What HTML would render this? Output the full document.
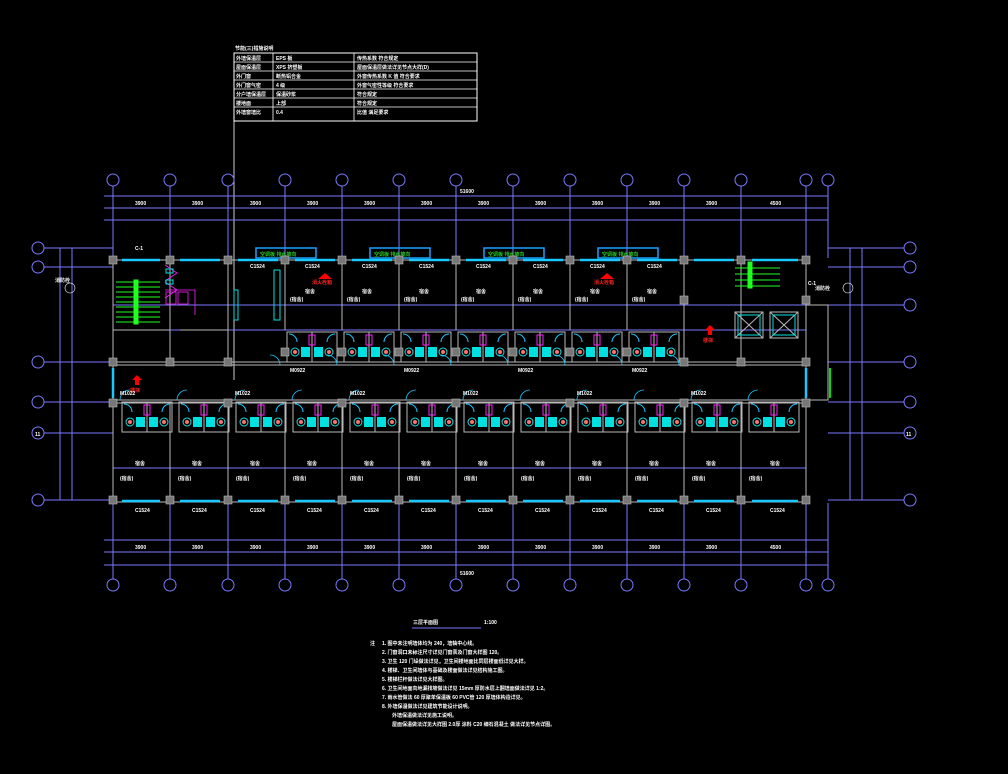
<!DOCTYPE html>
<html><head><meta charset="utf-8"><style>
html,body{margin:0;padding:0;background:#000;}
svg{display:block}
text{font-family:"Liberation Sans","Noto Sans CJK SC",sans-serif;fill:#fff;font-size:5px;font-weight:bold}
.d{stroke:#7a78ff;stroke-width:1;fill:none}
.w{stroke:#b8b8b8;stroke-width:1;fill:none}
.c{stroke:#19c8ff;fill:none}
</style></head><body>
<svg width="1008" height="774" viewBox="0 0 1008 774" xmlns="http://www.w3.org/2000/svg">
<defs>
<g id="bath">
 <rect x="0" y="0" width="50" height="30" class="w"/>
 <line x1="25" y1="0" x2="25" y2="30" stroke="#b8b8b8"/>
 <circle cx="8" cy="20" r="4" fill="none" stroke="#19e0e0"/><circle cx="8" cy="20" r="2" fill="#ff7070"/>
 <rect x="14" y="15" width="9" height="10" fill="#00e0e0"/>
 <rect x="27" y="15" width="9" height="10" fill="#00e0e0"/>
 <circle cx="42" cy="20" r="4" fill="none" stroke="#19e0e0"/><circle cx="42" cy="20" r="2" fill="#ff7070"/>
 <rect x="22" y="3" width="6" height="10" fill="none" stroke="#ff20ff"/>
 <path d="M2 2 A8 8 0 0 1 10 10 M48 2 A8 8 0 0 0 40 10" class="c"/>
</g>
<g id="colsq"><rect x="-4" y="-4" width="8" height="8" fill="#777" stroke="#bbb" stroke-width=".6"/></g>
</defs>

<text x="235" y="50">节能(三)措施说明</text>
<rect x="234" y="53" width="243" height="68" fill="none" stroke="#fff"/>
<g stroke="#fff" stroke-width=".8">
<line x1="234" y1="62" x2="477" y2="62"/><line x1="234" y1="71" x2="477" y2="71"/><line x1="234" y1="80" x2="477" y2="80"/>
<line x1="234" y1="89" x2="477" y2="89"/><line x1="234" y1="98" x2="477" y2="98"/><line x1="234" y1="107" x2="477" y2="107"/>
<line x1="273" y1="53" x2="273" y2="121"/><line x1="354" y1="53" x2="354" y2="121"/>
<line x1="234" y1="121" x2="234" y2="380"/>
</g>
<g>
<text x="236" y="60">外墙保温层</text><text x="276" y="60">EPS 板</text><text x="357" y="60">传热系数 符合规定</text>
<text x="236" y="69">屋面保温层</text><text x="276" y="69">XPS 挤塑板</text><text x="357" y="69">屋面保温层做法详见节点大样(D)</text>
<text x="236" y="78">外门窗</text><text x="276" y="78">断热铝合金</text><text x="357" y="78">外窗传热系数 K 值 符合要求</text>
<text x="236" y="87">外门窗气密</text><text x="276" y="87">4 级</text><text x="357" y="87">外窗气密性等级 符合要求</text>
<text x="236" y="96">分户墙保温层</text><text x="276" y="96">保温砂浆</text><text x="357" y="96">符合规定</text>
<text x="236" y="105">楼地面</text><text x="276" y="105">上部</text><text x="357" y="105">符合规定</text>
<text x="236" y="114">外墙窗墙比</text><text x="276" y="114">0.4</text><text x="357" y="114">比值 满足要求</text>
</g>

<g fill="none" stroke="#7a78ff">
<circle cx="113" cy="180" r="6"/><circle cx="170" cy="180" r="6"/><circle cx="228" cy="180" r="6"/><circle cx="285" cy="180" r="6"/><circle cx="342" cy="180" r="6"/><circle cx="399" cy="180" r="6"/><circle cx="456" cy="180" r="6"/><circle cx="513" cy="180" r="6"/><circle cx="570" cy="180" r="6"/><circle cx="627" cy="180" r="6"/><circle cx="684" cy="180" r="6"/><circle cx="741" cy="180" r="6"/><circle cx="806" cy="180" r="6"/><circle cx="828" cy="180" r="6"/>
<circle cx="113" cy="585" r="6"/><circle cx="170" cy="585" r="6"/><circle cx="228" cy="585" r="6"/><circle cx="285" cy="585" r="6"/><circle cx="342" cy="585" r="6"/><circle cx="399" cy="585" r="6"/><circle cx="456" cy="585" r="6"/><circle cx="513" cy="585" r="6"/><circle cx="570" cy="585" r="6"/><circle cx="627" cy="585" r="6"/><circle cx="684" cy="585" r="6"/><circle cx="741" cy="585" r="6"/><circle cx="806" cy="585" r="6"/><circle cx="828" cy="585" r="6"/>
<circle cx="38" cy="248" r="6"/><circle cx="38" cy="267" r="6"/><circle cx="38" cy="362" r="6"/><circle cx="38" cy="402" r="6"/><circle cx="38" cy="433" r="6"/><circle cx="38" cy="500" r="6"/>
<circle cx="910" cy="248" r="6"/><circle cx="910" cy="267" r="6"/><circle cx="910" cy="305" r="6"/><circle cx="910" cy="362" r="6"/><circle cx="910" cy="402" r="6"/><circle cx="910" cy="433" r="6"/><circle cx="910" cy="500" r="6"/>
</g>
<g class="d" stroke-width=".8">
<path d="M113 186V258M170 186V258M228 186V258M285 186V258M342 186V258M399 186V258M456 186V258M513 186V258M570 186V258M627 186V258M684 186V258M741 186V258M806 186V258M828 186V258"/>
<path d="M113 503V579M170 503V579M228 503V579M285 503V579M342 503V579M399 503V579M456 503V579M513 503V579M570 503V579M627 503V579M684 503V579M741 503V579M806 503V579M828 503V579"/>
<path d="M104 196H828M104 208H828M104 220H828M104 540H828M104 552H828M104 565H828"/>
<path d="M44 248H113M44 267H113M44 362H113M44 402H113M44 433H113M44 500H113"/>
<path d="M828 248H904M828 267H904M828 305H904M828 362H904M828 402H904M828 433H904M828 500H904"/>
<path d="M60 248V500M72 248V500M850 248V500M862 248V500"/>
<path d="M113 305H806M113 330H806M113 468H806"/>
</g>
<g>
<text x="460" y="193">51600</text><text x="460" y="575">51600</text>
<text x="135" y="205">3900</text><text x="192" y="205">3900</text><text x="250" y="205">3900</text><text x="307" y="205">3900</text><text x="364" y="205">3900</text><text x="421" y="205">3900</text><text x="478" y="205">3900</text><text x="535" y="205">3900</text><text x="592" y="205">3900</text><text x="649" y="205">3900</text><text x="706" y="205">3900</text><text x="770" y="205">4500</text>
<text x="135" y="549">3900</text><text x="192" y="549">3900</text><text x="250" y="549">3900</text><text x="307" y="549">3900</text><text x="364" y="549">3900</text><text x="421" y="549">3900</text><text x="478" y="549">3900</text><text x="535" y="549">3900</text><text x="592" y="549">3900</text><text x="649" y="549">3900</text><text x="706" y="549">3900</text><text x="770" y="549">4500</text>
<text x="35" y="436">11</text><text x="906" y="436">11</text>
</g>

<g class="w">
<rect x="113" y="260" width="693" height="242"/>
<path d="M806 305H828V400H806"/>
<path d="M113 365H806M113 400H806M113 362H806M113 403H806"/>
<path d="M170 260V362M228 260V362M285 260V330M342 260V330M399 260V330M456 260V330M513 260V330M570 260V330M627 260V330M684 260V362M741 260V362"/>
<path d="M170 403V502M228 403V502M285 403V502M342 403V502M399 403V502M456 403V502M513 403V502M570 403V502M627 403V502M684 403V502M741 403V502"/>
<path d="M113 330H170M180 330H228"/>
</g>
<g stroke="#19c8ff" stroke-width="2.5">
<path d="M122 260H160M180 260H220M238 260H278M295 260H335M352 260H392M409 260H449M466 260H506M523 260H563M580 260H620M637 260H677M694 260H734M752 260H798"/>
<path d="M122 501H160M180 501H220M238 501H278M295 501H335M352 501H392M409 501H449M466 501H506M523 501H563M580 501H620M637 501H677M694 501H734M752 501H798"/>
<path d="M113 368V398M806 368V398"/>
</g>
<path d="M830 368V398" stroke="#00e000" stroke-width="2"/>
<g fill="none" stroke="#19a0ff" stroke-width="1.5">
<rect x="256" y="248" width="60" height="10"/><rect x="370" y="248" width="60" height="10"/><rect x="484" y="248" width="60" height="10"/><rect x="598" y="248" width="60" height="10"/>
</g>
<g font-size="4"><text x="260" y="256" style="fill:#2c2">空调板 排水坡向</text><text x="374" y="256" style="fill:#2c2">空调板 排水坡向</text><text x="488" y="256" style="fill:#2c2">空调板 排水坡向</text><text x="602" y="256" style="fill:#2c2">空调板 排水坡向</text></g>
<use href="#bath" x="287" y="332"/><use href="#bath" x="344" y="332"/>
<use href="#bath" x="401" y="332"/><use href="#bath" x="458" y="332"/><use href="#bath" x="515" y="332"/><use href="#bath" x="572" y="332"/><use href="#bath" x="629" y="332"/>
<use href="#bath" x="122" y="402"/><use href="#bath" x="179" y="402"/><use href="#bath" x="236" y="402"/><use href="#bath" x="293" y="402"/><use href="#bath" x="350" y="402"/><use href="#bath" x="407" y="402"/><use href="#bath" x="464" y="402"/><use href="#bath" x="521" y="402"/><use href="#bath" x="578" y="402"/><use href="#bath" x="635" y="402"/><use href="#bath" x="692" y="402"/><use href="#bath" x="749" y="402"/>
<g class="c" stroke-width=".8">
<path d="M120 400a10 10 0 0 1 10-10M177 400a10 10 0 0 1 10-10M235 400a10 10 0 0 1 10-10M292 400a10 10 0 0 1 10-10M349 400a10 10 0 0 1 10-10M406 400a10 10 0 0 1 10-10M463 400a10 10 0 0 1 10-10M520 400a10 10 0 0 1 10-10M577 400a10 10 0 0 1 10-10M634 400a10 10 0 0 1 10-10M691 400a10 10 0 0 1 10-10M748 400a10 10 0 0 1 10-10"/>
<path d="M280 365a10 10 0 0 0-10-10M337 365a10 10 0 0 0-10-10M394 365a10 10 0 0 0-10-10M451 365a10 10 0 0 0-10-10M508 365a10 10 0 0 0-10-10M565 365a10 10 0 0 0-10-10M622 365a10 10 0 0 0-10-10M679 365a10 10 0 0 0-10-10"/>
</g>
<g>
<use href="#colsq" x="113" y="260"/><use href="#colsq" x="170" y="260"/><use href="#colsq" x="228" y="260"/><use href="#colsq" x="285" y="260"/><use href="#colsq" x="342" y="260"/><use href="#colsq" x="399" y="260"/><use href="#colsq" x="456" y="260"/><use href="#colsq" x="513" y="260"/><use href="#colsq" x="570" y="260"/><use href="#colsq" x="627" y="260"/><use href="#colsq" x="684" y="260"/><use href="#colsq" x="741" y="260"/><use href="#colsq" x="806" y="260"/>
<use href="#colsq" x="113" y="362"/><use href="#colsq" x="170" y="362"/><use href="#colsq" x="228" y="362"/><use href="#colsq" x="285" y="352"/><use href="#colsq" x="342" y="352"/><use href="#colsq" x="399" y="352"/><use href="#colsq" x="456" y="352"/><use href="#colsq" x="513" y="352"/><use href="#colsq" x="570" y="352"/><use href="#colsq" x="627" y="352"/><use href="#colsq" x="684" y="362"/><use href="#colsq" x="741" y="362"/><use href="#colsq" x="806" y="362"/>
<use href="#colsq" x="113" y="403"/><use href="#colsq" x="228" y="403"/><use href="#colsq" x="342" y="403"/><use href="#colsq" x="456" y="403"/><use href="#colsq" x="570" y="403"/><use href="#colsq" x="684" y="403"/><use href="#colsq" x="806" y="403"/>
<use href="#colsq" x="113" y="500"/><use href="#colsq" x="170" y="500"/><use href="#colsq" x="228" y="500"/><use href="#colsq" x="285" y="500"/><use href="#colsq" x="342" y="500"/><use href="#colsq" x="399" y="500"/><use href="#colsq" x="456" y="500"/><use href="#colsq" x="513" y="500"/><use href="#colsq" x="570" y="500"/><use href="#colsq" x="627" y="500"/><use href="#colsq" x="684" y="500"/><use href="#colsq" x="741" y="500"/><use href="#colsq" x="806" y="500"/>
<use href="#colsq" x="684" y="300"/><use href="#colsq" x="806" y="300"/>
</g>
<g stroke="#20ff20" stroke-width="1">
<path d="M116 282H160M116 287H160M116 292H160M116 297H160M116 302H160M116 307H160M116 312H160M116 317H160M116 322H160"/>
<rect x="134" y="280" width="4" height="44" fill="#20ff20"/>
</g>
<g stroke="#ff20ff" fill="none" stroke-width=".8"><path d="M165 265l12 8-12 8M165 282l12 8-12 8M165 290H195V315"/><rect x="166" y="292" width="10" height="12"/><rect x="178" y="292" width="10" height="12"/></g>
<g stroke="#00e0e0" fill="none"><rect x="166" y="269" width="7" height="4"/><rect x="166" y="280" width="7" height="4"/><rect x="234" y="290" width="4" height="30"/><rect x="274" y="270" width="6" height="50"/></g>
<g stroke="#20ff20"><path d="M735 268H780M735 274H780M735 280H780M735 286H780"/><rect x="748" y="262" width="4" height="26" fill="#20ff20"/></g>
<g fill="none" stroke="#b8b8b8"><rect x="735" y="312" width="28" height="26"/><rect x="770" y="312" width="28" height="26"/><path d="M735 312l28 26M763 312l-28 26M770 312l28 26M798 312l-28 26"/></g>
<g fill="none" stroke="#00e0e0"><rect x="738" y="315" width="22" height="20"/><rect x="773" y="315" width="22" height="20"/></g>
<g fill="#f00"><path d="M318 279l7-6 7 6z"/><path d="M600 279l7-6 7 6z"/><path d="M132 380l5-5 5 5h-3v5h-4v-5z"/><path d="M705 330l5-5 5 5h-3v5h-4v-5z"/></g>
<g font-size="4"><text x="312" y="284" style="fill:#f22">消火栓箱</text><text x="594" y="284" style="fill:#f22">消火栓箱</text><text x="130" y="392" style="fill:#f22">楼梯</text><text x="703" y="342" style="fill:#f22">楼梯</text></g>
<g font-size="4.5">
<text x="250" y="268">C1524</text><text x="305" y="268">C1524</text><text x="362" y="268">C1524</text><text x="419" y="268">C1524</text><text x="476" y="268">C1524</text><text x="533" y="268">C1524</text><text x="590" y="268">C1524</text><text x="647" y="268">C1524</text>
<text x="305" y="293">宿舍</text><text x="362" y="293">宿舍</text><text x="419" y="293">宿舍</text><text x="476" y="293">宿舍</text><text x="533" y="293">宿舍</text><text x="590" y="293">宿舍</text><text x="647" y="293">宿舍</text>
<text x="135" y="465">宿舍</text><text x="192" y="465">宿舍</text><text x="250" y="465">宿舍</text><text x="307" y="465">宿舍</text><text x="364" y="465">宿舍</text><text x="421" y="465">宿舍</text><text x="478" y="465">宿舍</text><text x="535" y="465">宿舍</text><text x="592" y="465">宿舍</text><text x="649" y="465">宿舍</text><text x="706" y="465">宿舍</text><text x="770" y="465">宿舍</text>
<text x="135" y="512">C1524</text><text x="192" y="512">C1524</text><text x="250" y="512">C1524</text><text x="307" y="512">C1524</text><text x="364" y="512">C1524</text><text x="421" y="512">C1524</text><text x="478" y="512">C1524</text><text x="535" y="512">C1524</text><text x="592" y="512">C1524</text><text x="649" y="512">C1524</text><text x="706" y="512">C1524</text><text x="770" y="512">C1524</text>
<text x="120" y="395">M1022</text><text x="235" y="395">M1022</text><text x="350" y="395">M1022</text><text x="463" y="395">M1022</text><text x="577" y="395">M1022</text><text x="691" y="395">M1022</text>
<text x="290" y="372">M0922</text><text x="404" y="372">M0922</text><text x="518" y="372">M0922</text><text x="632" y="372">M0922</text>
<text x="120" y="480">(宿舍)</text><text x="178" y="480">(宿舍)</text><text x="236" y="480">(宿舍)</text><text x="293" y="480">(宿舍)</text><text x="350" y="480">(宿舍)</text><text x="407" y="480">(宿舍)</text><text x="464" y="480">(宿舍)</text><text x="521" y="480">(宿舍)</text><text x="578" y="480">(宿舍)</text><text x="635" y="480">(宿舍)</text><text x="692" y="480">(宿舍)</text><text x="749" y="480">(宿舍)</text>
<text x="290" y="301">(宿舍)</text><text x="347" y="301">(宿舍)</text><text x="404" y="301">(宿舍)</text><text x="461" y="301">(宿舍)</text><text x="518" y="301">(宿舍)</text><text x="575" y="301">(宿舍)</text><text x="632" y="301">(宿舍)</text>
<text x="135" y="250">C-1</text><text x="808" y="285">C-1</text>
<text x="55" y="282">消防栓</text><text x="815" y="290">消防栓</text>
</g>
<circle cx="70" cy="288" r="5" fill="none" stroke="#fff" stroke-width=".6"/>
<circle cx="848" cy="288" r="5" fill="none" stroke="#fff" stroke-width=".6"/>

<text x="413" y="624" font-size="7">三层平面图</text><text x="484" y="624" font-size="4.5">1:100</text>
<line x1="412" y1="628" x2="481" y2="628" stroke="#7a78ff"/>
<g font-size="5">
<text x="370" y="645">注</text>
<text x="382" y="645">1. 图中未注明墙体均为         240，墙轴中心线。</text>
<text x="382" y="654">2. 门窗洞口未标注尺寸详见门窗表及门窗大样图          120。</text>
<text x="382" y="663">3. 卫生     120 门垛做法详见，卫生间楼地面比同层楼面低详见大样。</text>
<text x="382" y="672">4. 楼梯、卫生间墙体与基础及楼面做法详见结构施工图。</text>
<text x="382" y="681">5. 楼梯栏杆做法详见大样图。</text>
<text x="382" y="690">6. 卫生间地面向地漏找坡做法详见              15mm 厚防水层上翻墙面做法详见        1:2。</text>
<text x="382" y="699">7. 雨水管做法         60 厚聚苯保温板        60   PVC管   120 厚墙体构造详见。</text>
<text x="382" y="708">8. 外墙保温做法详见建筑节能设计说明。</text>
<text x="392" y="717">外墙保温做法详见施工说明。</text>
<text x="392" y="726">屋面保温做法详见大样图          2.0厚 涂料       C20 细石混凝土 做法详见节点详图。</text>
</g>
</svg>
</body></html>
